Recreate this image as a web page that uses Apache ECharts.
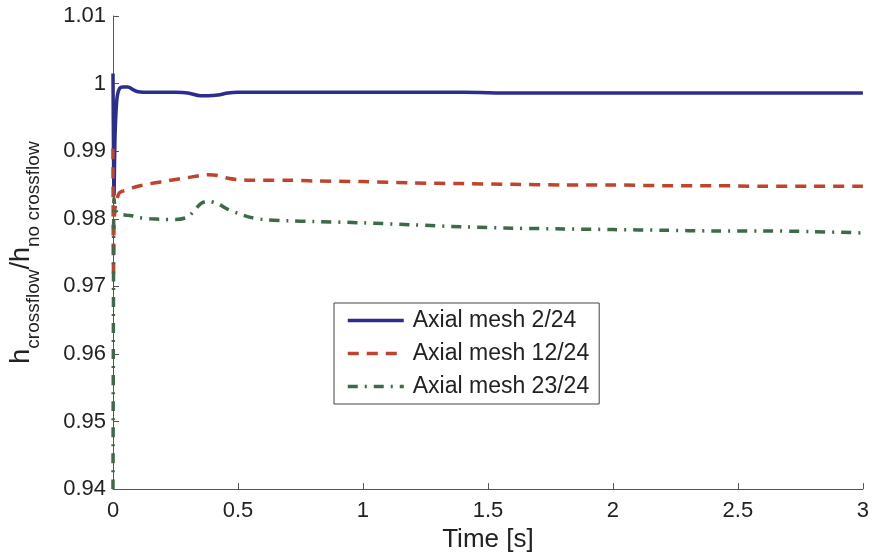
<!DOCTYPE html>
<html>
<head>
<meta charset="utf-8">
<script src="https://cdn.jsdelivr.net/npm/echarts@6/dist/echarts.min.js"></script>
<style>
  html, body { margin: 0; padding: 0; background: #fff; }
  #chart { width: 872px; height: 558px; }
</style>
</head>
<body>
<div id="chart"></div>
<script>
// time samples [s], shared by all three curves
var times = [0, 0.002, 0.004, 0.008, 0.015, 0.025, 0.04, 0.06, 0.08, 0.1,
    0.15, 0.2, 0.25, 0.3, 0.35, 0.38, 0.42, 0.46, 0.5, 0.55,
    0.6, 0.7, 0.8, 1.0, 1.2, 1.4, 1.6, 1.8, 2.0, 2.2,
    2.4, 2.6, 2.8, 3.0];
var mesh2 = [1.0015, 0.9900, 0.9835, 0.9920, 0.9975, 0.9992, 0.9995, 0.9995, 0.9991, 0.9988,
    0.9987, 0.9987, 0.9987, 0.9986, 0.9982, 0.9982, 0.9983, 0.9986, 0.9987, 0.9987,
    0.9987, 0.9987, 0.9987, 0.9987, 0.9987, 0.9987, 0.9986, 0.9986, 0.9986, 0.9986,
    0.9986, 0.9986, 0.9986, 0.9986];
var mesh12 = [0.9904, 0.9713, 0.9790, 0.9815, 0.9828, 0.9838, 0.9841, 0.9843, 0.9846, 0.9848,
    0.9852, 0.9855, 0.9858, 0.9861, 0.9864, 0.9865, 0.9864, 0.9860, 0.9858, 0.9857,
    0.9857, 0.9857, 0.9856, 0.9855, 0.9853, 0.9852, 0.9851, 0.9850, 0.9850, 0.9849,
    0.9849, 0.9848, 0.9848, 0.9848];
var mesh23 = [0.9400, 0.9700, 0.9830, 0.9818, 0.9810, 0.9807, 0.9806, 0.9805, 0.9804, 0.9802,
    0.9800, 0.9799, 0.9799, 0.9803, 0.9822, 0.9826, 0.9822, 0.9814, 0.9808, 0.9802,
    0.9799, 0.9797, 0.9796, 0.9794, 0.9791, 0.9788, 0.9786, 0.9785, 0.9784, 0.9783,
    0.9782, 0.9782, 0.9781, 0.9779];
var names = ['Axial mesh 2/24', 'Axial mesh 12/24', 'Axial mesh 23/24'];

function pairs(ys) {
    var out = [];
    for (var i = 0; i < times.length; i++) out.push([times[i], ys[i]]);
    return out;
}

var font = 'Liberation Sans, Arial, Helvetica, sans-serif';
var textColor = '#222';

var chart = echarts.init(document.getElementById('chart'));
var option = {
    animation: false,
    backgroundColor: '#fff',
    grid: {left: 112, right: 9, top: 16, bottom: 64},
    legend: {
        orient: 'vertical',
        left: 334,
        top: 303,
        padding: [6, 10, 6, 12],
        itemGap: 10,
        itemWidth: 56,
        itemHeight: 14,
        borderColor: '#444',
        borderWidth: 1,
        backgroundColor: '#fff',
        itemStyle: {opacity: 0},
        lineStyle: {width: 3.5},
        textStyle: {fontFamily: font, fontSize: 23, color: textColor, padding: [0, 0, 0, 4]},
        data: names
    },
    xAxis: {
        type: 'value',
        min: 0,
        max: 3,
        interval: 0.5,
        name: 'Time [s]',
        nameLocation: 'middle',
        nameGap: 36,
        nameTextStyle: {fontFamily: font, fontSize: 26, color: textColor},
        axisLine: {lineStyle: {color: '#555', width: 1}},
        axisTick: {inside: true, length: 6, lineStyle: {color: '#555'}},
        axisLabel: {fontFamily: font, fontSize: 22, color: textColor, margin: 11},
        splitLine: {show: false}
    },
    yAxis: {
        type: 'value',
        min: 0.94,
        max: 1.01,
        interval: 0.01,
        name: '{h|h}{s|crossflow}{h|/h}{s|no crossflow}',
        nameLocation: 'middle',
        nameRotate: 90,
        nameGap: 70,
        nameTextStyle: {
            fontFamily: font,
            color: textColor,
            rich: {
                h: {fontFamily: font, fontSize: 27, color: textColor, padding: [0, 0, 8, 0], verticalAlign: 'top'},
                s: {fontFamily: font, fontSize: 19, color: textColor, verticalAlign: 'bottom'}
            }
        },
        axisLine: {show: true, lineStyle: {color: '#555', width: 1}},
        axisTick: {show: true, inside: true, length: 6, lineStyle: {color: '#555'}},
        axisLabel: {
            fontFamily: font, fontSize: 22, color: textColor, margin: 7,
            formatter: function (v) { return String(Math.round(v * 100) / 100); }
        },
        splitLine: {show: false}
    },
    series: [
        {
            name: names[0], type: 'line', data: pairs(mesh2), showSymbol: false, symbol: 'none',
            smooth: 0.3,
            color: '#2c2e8e',
            lineStyle: {width: 3.5, color: '#2c2e8e'}
        },
        {
            name: names[1], type: 'line', data: pairs(mesh12), showSymbol: false, symbol: 'none',
            smooth: 0.3,
            color: '#c0432c',
            lineStyle: {width: 3.5, color: '#c0432c', type: [11, 8]}
        },
        {
            name: names[2], type: 'line', data: pairs(mesh23), showSymbol: false, symbol: 'none',
            smooth: 0.3,
            color: '#3b6b47',
            lineStyle: {width: 3.5, color: '#3b6b47', type: [10, 7, 2, 7]}
        }
    ]
};
chart.setOption(option);
</script>
</body>
</html>
